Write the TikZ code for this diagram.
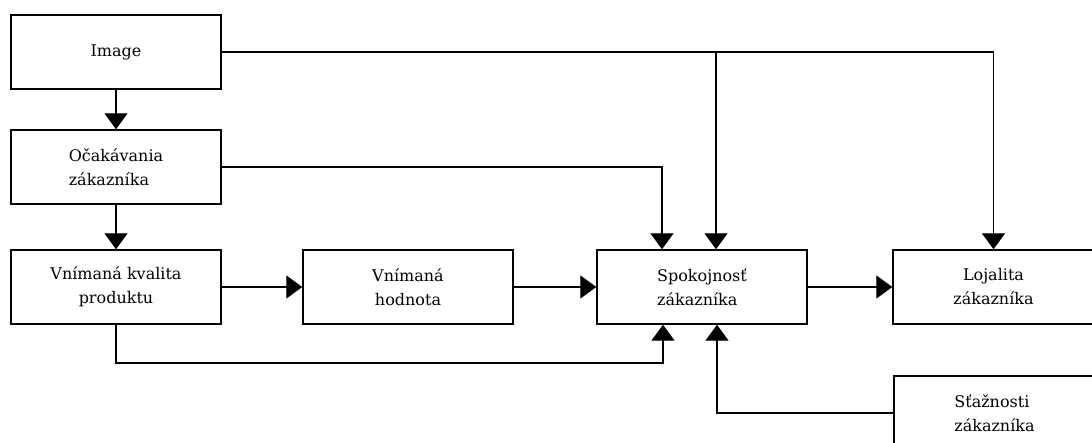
\documentclass[tikz,border=0pt]{standalone}
\usepackage{fontspec}
\setmainfont{DejaVu Serif}
\usetikzlibrary{arrows.meta}
\begin{document}
\begin{tikzpicture}[x=1pt,y=-1pt,
  box/.style={draw, line width=1.4pt, minimum width=210pt, minimum height=74pt, inner sep=0pt,
    font=\fontsize{16}{24}\selectfont},
  conn/.style={line width=1.3pt},
  arr/.style={conn, -{Triangle[width=23pt 0, length=16pt 0]}}]
\useasboundingbox (0,0) rectangle (1092,443);
\clip (0,0) rectangle (1092,443);
\node[box] (img) at (116,52) {Image};
\node[box, align=left] (oca) at (116,167) {Očakávania\\zákazníka};
\node[box, align=center] (kva) at (116,287) {Vnímaná kvalita\\produktu};
\node[box, align=center] (hod) at (408,287) {Vnímaná\\hodnota};
\node[box, align=left] (spo) at (702,287) {Spokojnosť\\zákazníka};
\node[box, align=center, minimum width=201pt] (loj) at (993.5,287) {Lojalita\\zákazníka};
\node[box, align=left, minimum width=201pt] (sta) at (994.5,413) {Sťažnosti\\zákazníka};
\coordinate (xa) at (662,0);
\coordinate (xb) at (716,52);
\coordinate (xc) at (663,363);
\coordinate (xd) at (717,0);
\draw[arr] (img.south) -- (oca.north);
\draw[arr] (oca.south) -- (kva.north);
\draw[arr] (kva.east) -- (hod.west);
\draw[arr] (hod.east) -- (spo.west);
\draw[arr] (spo.east) -- (loj.west);
\draw[arr] (img.east) -| (loj.north);
\draw[arr] (xb) -- (xb |- spo.north);
\draw[arr] (oca.east) -| (xa |- spo.north);
\draw[arr] (kva.south) |- (xc) -- (xc |- spo.south);
\draw[arr] (sta.west) -| (xd |- spo.south);
\end{tikzpicture}
\end{document}
